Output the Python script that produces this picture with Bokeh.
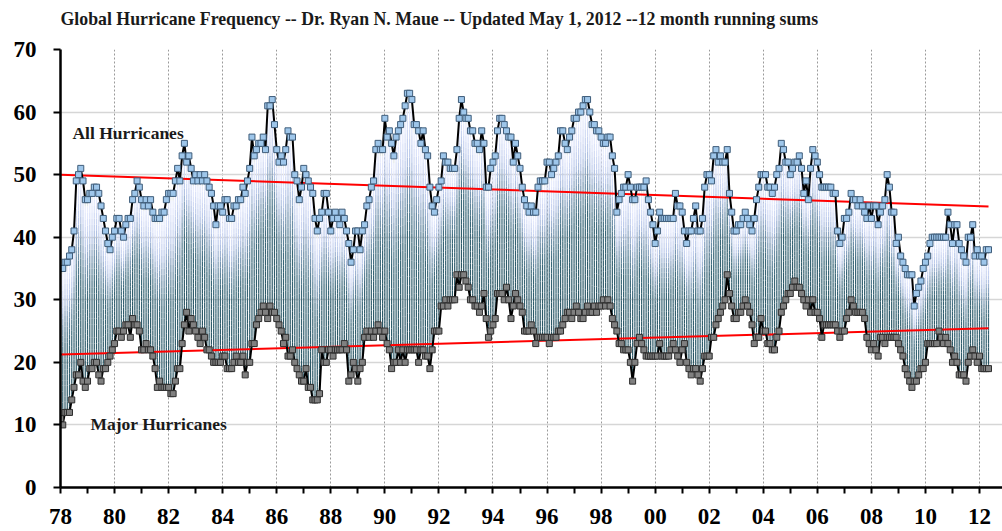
import numpy as np
from bokeh.plotting import figure
from bokeh.models import FixedTicker, Range1d, Label, Title
from bokeh.embed import file_html
from bokeh.resources import INLINE

TITLE = "Global Hurricane Frequency -- Dr. Ryan N. Maue -- Updated May 1, 2012 --12 month running sums"

start_year = 1978  # first month: January 1978, one value per month

all_hurricanes = [
    35, 35, 36, 36, 37, 38, 41, 49, 50, 51, 49, 46,  # 1978
    46, 47, 47, 48, 48, 47, 45, 43, 41, 39, 38, 40,  # 1979
    41, 43, 43, 41, 40, 42, 43, 43, 46, 47, 49, 48,  # 1980
    46, 45, 46, 45, 46, 44, 43, 43, 43, 44, 44, 46,  # 1981
    47, 47, 47, 49, 51, 49, 53, 55, 52, 53, 51, 49,  # 1982
    50, 49, 50, 49, 50, 49, 48, 47, 45, 42, 45, 45,  # 1983
    44, 46, 46, 43, 43, 45, 45, 46, 46, 48, 47, 49,  # 1984
    51, 56, 53, 54, 55, 55, 56, 54, 61, 61, 62, 58,  # 1985
    54, 52, 53, 52, 54, 57, 56, 56, 50, 49, 46, 48,  # 1986
    51, 50, 49, 48, 47, 43, 41, 43, 44, 47, 47, 44,  # 1987
    41, 43, 44, 43, 42, 44, 43, 41, 39, 36, 38, 41,  # 1988
    41, 38, 41, 42, 45, 46, 48, 49, 54, 55, 54, 54,  # 1989
    59, 56, 57, 55, 53, 56, 57, 58, 59, 61, 63, 63,  # 1990
    62, 58, 58, 57, 55, 57, 54, 53, 48, 45, 44, 46,  # 1991
    48, 49, 53, 52, 52, 51, 51, 51, 54, 59, 62, 60,  # 1992
    59, 59, 57, 57, 55, 55, 54, 57, 55, 48, 48, 51,  # 1993
    52, 53, 57, 59, 59, 58, 57, 56, 56, 52, 55, 53,  # 1994
    51, 48, 46, 45, 44, 45, 44, 44, 48, 49, 49, 49,  # 1995
    52, 52, 50, 51, 52, 53, 57, 57, 55, 54, 56, 57,  # 1996
    59, 59, 60, 60, 61, 62, 62, 60, 58, 58, 57, 57,  # 1997
    56, 55, 55, 56, 56, 53, 51, 44, 46, 47, 48, 48,  # 1998
    50, 48, 46, 46, 48, 48, 48, 48, 49, 46, 44, 42,  # 1999
    39, 41, 44, 43, 43, 43, 43, 43, 43, 47, 45, 45,  # 2000
    44, 41, 39, 41, 41, 43, 45, 41, 41, 43, 48, 50,  # 2001
    50, 49, 53, 54, 52, 53, 52, 52, 54, 47, 44, 41,  # 2002
    41, 42, 42, 43, 44, 43, 42, 41, 43, 46, 48, 50,  # 2003
    50, 50, 48, 48, 47, 48, 50, 51, 55, 54, 52, 52,  # 2004
    50, 51, 52, 52, 53, 51, 47, 49, 46, 51, 54, 53,  # 2005
    52, 50, 48, 48, 48, 48, 48, 47, 47, 41, 39, 40,  # 2006
    43, 43, 44, 47, 46, 46, 45, 46, 45, 44, 43, 45,  # 2007
    43, 45, 45, 42, 44, 45, 46, 50, 48, 44, 44, 39,  # 2008
    40, 37, 36, 35, 34, 34, 34, 29, 31, 32, 33, 35,  # 2009
    36, 37, 39, 40, 40, 40, 40, 40, 40, 40, 44, 42,  # 2010
    39, 42, 42, 39, 38, 37, 36, 40, 40, 42, 37, 38,  # 2011
    37, 37, 36, 38, 38,                              # 2012
]

major_hurricanes = [
    11, 10, 12, 12, 12, 14, 16, 18, 18, 20, 17, 16,  # 1978
    17, 19, 19, 20, 20, 18, 17, 19, 19, 20, 21, 22,  # 1979
    23, 25, 25, 24, 25, 26, 26, 24, 27, 26, 26, 25,  # 1980
    22, 22, 23, 22, 22, 21, 19, 16, 17, 16, 16, 16,  # 1981
    16, 15, 15, 17, 19, 19, 23, 26, 28, 25, 27, 26,  # 1982
    25, 24, 23, 25, 24, 22, 22, 21, 20, 20, 20, 20,  # 1983
    21, 21, 19, 19, 19, 20, 21, 20, 20, 21, 18, 20,  # 1984
    20, 23, 23, 26, 27, 28, 29, 28, 27, 29, 28, 28,  # 1985
    27, 26, 25, 23, 24, 21, 21, 22, 20, 19, 18, 17,  # 1986
    17, 19, 16, 16, 14, 14, 14, 15, 22, 20, 20, 22,  # 1987
    22, 21, 22, 22, 22, 22, 23, 22, 17, 18, 20, 19,  # 1988
    17, 19, 20, 24, 25, 24, 25, 24, 25, 26, 25, 24,  # 1989
    25, 23, 22, 19, 20, 20, 22, 20, 22, 20, 22, 22,  # 1990
    22, 22, 22, 20, 22, 22, 21, 21, 19, 22, 25, 25,  # 1991
    25, 29, 29, 30, 29, 30, 30, 30, 34, 32, 34, 34,  # 1992
    33, 32, 30, 30, 29, 29, 28, 29, 31, 27, 24, 25,  # 1993
    26, 27, 31, 31, 31, 30, 32, 30, 27, 29, 31, 30,  # 1994
    29, 28, 25, 25, 25, 26, 25, 23, 24, 24, 24, 24,  # 1995
    24, 23, 24, 24, 24, 25, 25, 26, 27, 28, 28, 27,  # 1996
    28, 29, 28, 27, 27, 28, 29, 28, 28, 29, 28, 29,  # 1997
    29, 30, 29, 30, 29, 27, 26, 25, 23, 23, 22, 22,  # 1998
    22, 20, 17, 20, 23, 24, 23, 22, 21, 21, 21, 21,  # 1999
    21, 21, 23, 21, 21, 21, 21, 22, 23, 22, 21, 20,  # 2000
    22, 23, 20, 19, 18, 19, 19, 18, 17, 19, 21, 21,  # 2001
    21, 24, 24, 26, 27, 28, 29, 30, 34, 31, 29, 27,  # 2002
    27, 28, 28, 29, 30, 29, 28, 26, 23, 24, 24, 27,  # 2003
    25, 25, 23, 23, 22, 22, 24, 25, 28, 29, 30, 31,  # 2004
    31, 32, 33, 32, 32, 31, 30, 29, 30, 28, 30, 28,  # 2005
    28, 27, 24, 26, 26, 26, 26, 26, 26, 25, 24, 25,  # 2006
    25, 27, 28, 30, 29, 28, 28, 28, 28, 27, 24, 23,  # 2007
    22, 23, 22, 21, 24, 24, 23, 24, 24, 24, 24, 24,  # 2008
    23, 22, 21, 19, 18, 17, 16, 17, 17, 18, 19, 19,  # 2009
    20, 23, 23, 23, 23, 23, 25, 24, 23, 24, 23, 22,  # 2010
    20, 21, 20, 18, 18, 18, 17, 20, 21, 22, 21, 20,  # 2011
    21, 19, 19, 19, 19,                              # 2012
]

# linear trend lines (values at start and end)
trend_years = [1978.0, 2012.333]
all_trend = [50.0, 44.9]
major_trend = [21.25, 25.45]

tick_years = list(range(1978, 2013, 2))
tick_labels = ["78", "80", "82", "84", "86", "88", "90", "92", "94", "96",
               "98", "00", "02", "04", "06", "08", "10", "12"]
minor_years = list(range(1979, 2013, 2))
y_ticks = [0, 10, 20, 30, 40, 50, 60, 70]

assert len(all_hurricanes) == len(major_hurricanes)

allv = np.array(all_hurricanes, dtype=float)
majv = np.array(major_hurricanes, dtype=float)
xm = start_year + np.arange(len(allv)) / 12.0

W, H = 1002, 531
LEFT, TOP, BOTTOM = 60, 49, 44
px_per_year = 919.0 / 34.0
x_end = 1978 + (W - LEFT) / px_per_year

serif = "Liberation Serif"

p = figure(width=W, height=H, output_backend="svg", toolbar_location=None,
           x_range=Range1d(1978, x_end), y_range=Range1d(0, 70),
           min_border_left=LEFT, min_border_right=0, min_border_top=TOP,
           min_border_bottom=BOTTOM, title=TITLE)
p.outline_line_color = None
p.background_fill_color = "white"

p.title.text_font = serif
p.title.text_font_style = "bold"
p.title.text_font_size = "17.8px"
p.title.text_color = "#1a1a1a"
p.title.align = "left"
# empty spacer between the title and the plot frame
p.add_layout(Title(text=" ", text_font_size="12px", standoff=0), "above")

for ax in (p.xaxis[0], p.yaxis[0]):
    ax.axis_line_color = "black"
    ax.axis_line_width = 2.5
    ax.major_tick_line_color = "black"
    ax.major_tick_line_width = 2
    ax.minor_tick_line_color = "black"
    ax.minor_tick_line_width = 2
    ax.major_tick_in = 0
    ax.minor_tick_in = 0
    ax.major_label_text_font = serif
    ax.major_label_text_font_style = "bold"
    ax.major_label_text_font_size = "23px"
    ax.major_label_text_color = "black"

p.xaxis.ticker = FixedTicker(ticks=tick_years, minor_ticks=minor_years)
p.xaxis.major_label_overrides = {y: lab for y, lab in zip(tick_years, tick_labels)}
p.xaxis.major_tick_out = 6
p.xaxis.minor_tick_out = 6
p.xaxis.major_label_standoff = 15

p.yaxis.ticker = FixedTicker(ticks=y_ticks, minor_ticks=[])
p.yaxis.major_tick_out = 7
p.yaxis.minor_tick_out = 0
p.yaxis.major_label_standoff = 17

p.xgrid.ticker = FixedTicker(ticks=tick_years)
p.xgrid.grid_line_color = "#9a9a9a"
p.xgrid.grid_line_width = 1
p.xgrid.grid_line_dash = "2 2"
p.ygrid.ticker = FixedTicker(ticks=y_ticks)
p.ygrid.grid_line_color = "#d6d6d6"
p.ygrid.grid_line_width = 1.6

# gradient high-low lines between the two series
stops = [(0.0, (40, 84, 98)), (0.45, (58, 104, 121)), (0.62, (118, 150, 176)),
         (0.75, (186, 201, 234)), (0.9, (226, 231, 252)), (0.97, (236, 239, 255)),
         (1.0, (214, 220, 200))]
N = 28
ts = np.linspace(0.0, 1.0, N + 1)
tmid = 0.5 * (ts[:-1] + ts[1:])
st = np.array([s[0] for s in stops])
rgb = np.array([s[1] for s in stops], dtype=float)
cols = []
for t in tmid:
    r = np.interp(t, st, rgb[:, 0]); g = np.interp(t, st, rgb[:, 1]); b = np.interp(t, st, rgb[:, 2])
    cols.append("#%02x%02x%02x" % (int(r), int(g), int(b)))
span = allv - majv
seg_x = np.repeat(xm, N)
seg_y0 = (majv[:, None] + span[:, None] * ts[None, :-1]).ravel()
seg_y1 = (majv[:, None] + span[:, None] * ts[None, 1:]).ravel()
seg_c = np.tile(cols, len(xm))
p.segment(x0=seg_x, y0=seg_y0, x1=seg_x, y1=seg_y1, line_color=seg_c, line_width=1.2)

# trend lines
p.line(trend_years, all_trend, line_color="#ff0000", line_width=2)
p.line(trend_years, major_trend, line_color="#ff0000", line_width=2)

# series
p.line(xm, majv, line_color="black", line_width=2)
p.scatter(xm, majv, marker="square", size=6, fill_color="#808080",
          line_color="#2e2e2e", line_width=1)
p.line(xm, allv, line_color="black", line_width=2)
p.scatter(xm, allv, marker="square", size=6, fill_color="#9ec6ea",
          line_color="#3f5d7a", line_width=1)

p.add_layout(Label(x=1978.44, y=56.6, text="All Hurricanes", text_font=serif,
                   text_font_style="bold", text_font_size="17.5px", text_color="#1a1a1a",
                   text_baseline="middle"))
p.add_layout(Label(x=1979.11, y=10.2, text="Major Hurricanes", text_font=serif,
                   text_font_style="bold", text_font_size="17.5px", text_color="#1a1a1a",
                   text_baseline="middle"))

open("out.html", "w").write(file_html(p, INLINE))
